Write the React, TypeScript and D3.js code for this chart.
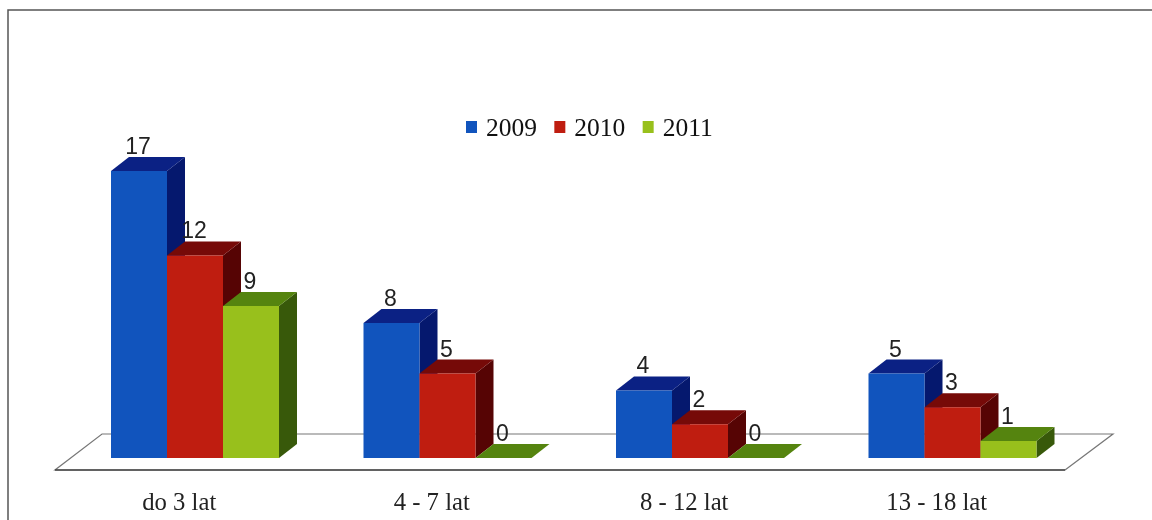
import React, { useRef, useEffect } from "react";
import { select, line, scaleBand, scaleLinear, axisBottom } from "d3";

const categories = ["do 3 lat", "4 - 7 lat", "8 - 12 lat", "13 - 18 lat"];
const years = ["2009", "2010", "2011"];
const values2009 = [17, 8, 4, 5];
const values2010 = [12, 5, 2, 3];
const values2011 = [9, 0, 0, 1];
const seriesValues = [values2009, values2010, values2011];

const frontColors = ["#1154bd", "#bf1d10", "#98c01c"];
const topColors = ["#0b2184", "#760a08", "#55840f"];
const sideColors = ["#05186e", "#560404", "#38590a"];

const depthX = 18;
const depthY = -14;

type Pt = [number, number];

const App: React.FC = () => {
  const svgRef = useRef<SVGSVGElement>(null);

  useEffect(() => {
    const svg = select(svgRef.current);
    svg.selectAll("*").remove();

    const xBand = scaleBand<string>().domain(categories).range([55, 1065]);
    const xInner = scaleBand<string>().domain(years).range([56, 224]);
    const yScale = scaleLinear().domain([0, 17]).range([458, 171]);
    const poly = line<Pt>();
    const closed = (pts: Pt[]) => poly(pts) + "Z";

    // outer frame, only top and left survive in the scan
    svg
      .append("path")
      .attr("d", poly([[8, 520], [8, 10], [1152, 10]]))
      .attr("fill", "none")
      .attr("stroke", "#555")
      .attr("stroke-width", 1.5);

    // floor
    const floorFront = 470;
    const floorBack = 434;
    svg
      .append("path")
      .attr("d", closed([[1065, floorFront], [1113, floorBack], [102, floorBack], [55, floorFront]]))
      .attr("fill", "#fff")
      .attr("stroke", "#777")
      .attr("stroke-width", 1.2);
    svg
      .append("path")
      .attr("d", poly([[55, floorFront], [1065, floorFront]]))
      .attr("stroke", "#444")
      .attr("stroke-width", 1.5);

    // bars
    const labels: { x: number; y: number; text: number }[] = [];
    categories.forEach((cat, c) => {
      years.forEach((yr, s) => {
        const v = seriesValues[s][c];
        const x0 = xBand(cat)! + xInner(yr)!;
        const x1 = x0 + xInner.bandwidth();
        const top = yScale(v);
        const base = yScale(0);
        const g = svg.append("g");
        g.append("path")
          .attr("d", closed([[x1, top], [x1 + depthX, top + depthY], [x1 + depthX, base + depthY], [x1, base]]))
          .attr("fill", sideColors[s]);
        g.append("path")
          .attr("d", closed([[x0, top], [x0 + depthX, top + depthY], [x1 + depthX, top + depthY], [x1, top]]))
          .attr("fill", topColors[s]);
        g.append("path")
          .attr("d", closed([[x0, top], [x1, top], [x1, base], [x0, base]]))
          .attr("fill", frontColors[s]);
        labels.push({ x: (x0 + x1) / 2 - 1, y: top + depthY - 3, text: v });
      });
    });

    svg
      .append("g")
      .selectAll("text")
      .data(labels)
      .join("text")
      .attr("x", (d) => d.x)
      .attr("y", (d) => d.y)
      .attr("text-anchor", "middle")
      .attr("font-family", "'Liberation Sans', sans-serif")
      .attr("font-size", 23)
      .attr("fill", "#222")
      .text((d) => d.text);

    // category labels
    const axis = axisBottom(xBand).tickSize(0).tickPadding(22);
    const axisG = svg.append("g").attr("transform", `translate(-2,${floorFront})`).call(axis);
    axisG.select(".domain").remove();
    axisG
      .selectAll("text")
      .attr("font-family", "'Liberation Serif', serif")
      .attr("font-size", 24.7)
      .attr("fill", "#222");

    // legend
    const legendX = scaleBand<string>().domain(years).range([466, 731]);
    const legend = svg
      .append("g")
      .selectAll("g")
      .data(years)
      .join("g")
      .attr("transform", (d) => `translate(${legendX(d)},0)`);
    legend
      .append("rect")
      .attr("y", 121)
      .attr("width", 11)
      .attr("height", 12)
      .attr("fill", (_, i) => frontColors[i]);
    legend
      .append("text")
      .attr("x", 20)
      .attr("y", 136)
      .attr("font-family", "'Liberation Serif', serif")
      .attr("font-size", 25.5)
      .attr("fill", "#111")
      .text((d) => d);
  }, []);

  return (
    <svg
      ref={svgRef}
      width={1152}
      height={520}
      style={{ position: "absolute", left: 0, top: 0, background: "#fff", filter: "blur(0.4px)" }}
    ></svg>
  );
};

export default App;
